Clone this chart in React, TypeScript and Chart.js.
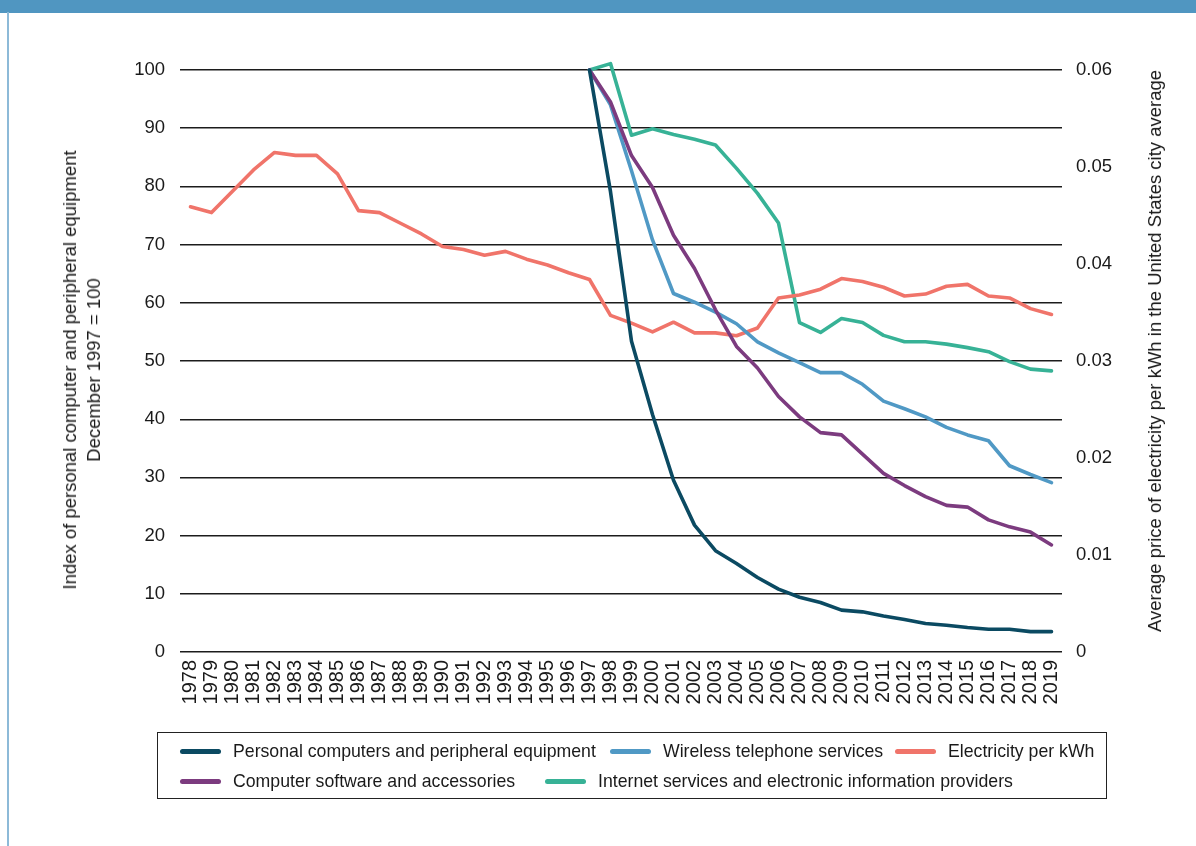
import React, { useEffect, useRef } from "react";
import { Chart, registerables } from "chart.js";

Chart.register(...registerables);

const FONT = "'Liberation Sans', Arial, Helvetica, sans-serif";

const years = [
  "1978", "1979", "1980", "1981", "1982", "1983", "1984", "1985", "1986", "1987",
  "1988", "1989", "1990", "1991", "1992", "1993", "1994", "1995", "1996", "1997",
  "1998", "1999", "2000", "2001", "2002", "2003", "2004", "2005", "2006", "2007",
  "2008", "2009", "2010", "2011", "2012", "2013", "2014", "2015", "2016", "2017",
  "2018", "2019",
];

// Index series start in December 1997 (= 100)
const indexStartYear = "1997";

const pcIndex = [
  100, 79.1, 53.4, 40.8, 29.5, 21.8, 17.4, 15.2, 12.8, 10.8, 9.4, 8.5,
  7.2, 6.9, 6.2, 5.6, 4.9, 4.6, 4.2, 3.9, 3.9, 3.5, 3.5,
];
const wirelessIndex = [
  100, 94.0, 82.7, 70.8, 61.6, 60.1, 58.4, 56.4, 53.3, 51.4, 49.7, 48.0,
  48.0, 46.0, 43.1, 41.8, 40.4, 38.6, 37.3, 36.3, 32.0, 30.5, 29.1,
];
const softwareIndex = [
  100, 94.5, 85.3, 79.8, 71.6, 65.9, 58.8, 52.5, 48.8, 43.9, 40.4, 37.7,
  37.3, 34.0, 30.7, 28.6, 26.7, 25.2, 24.9, 22.7, 21.5, 20.6, 18.4,
];
const internetIndex = [
  100, 101.1, 88.8, 89.9, 88.9, 88.1, 87.1, 83.1, 78.8, 73.7, 56.6, 54.9,
  57.3, 56.6, 54.4, 53.3, 53.3, 52.9, 52.3, 51.6, 49.9, 48.6, 48.3,
];

// Average price of electricity per kWh (USD), 1978-2019
const electricityPrice = [
  0.0459, 0.0453, 0.0475, 0.0497, 0.0515, 0.0512, 0.0512, 0.0493, 0.0455, 0.0453,
  0.0442, 0.0431, 0.0418, 0.0415, 0.0409, 0.0413, 0.0405, 0.0399, 0.0391, 0.0384,
  0.0347, 0.0339, 0.0330, 0.0340, 0.0329, 0.0329, 0.0326, 0.0334, 0.0365, 0.0368,
  0.0374, 0.0385, 0.0382, 0.0376, 0.0367, 0.0369, 0.0377, 0.0379, 0.0367, 0.0365,
  0.0354, 0.0348,
];

const leftTicks = [0, 10, 20, 30, 40, 50, 60, 70, 80, 90, 100];
const rightTickLabels = ["0", "0.01", "0.02", "0.03", "0.04", "0.05", "0.06"];

const seriesNames = [
  "Personal computers and peripheral equipment",
  "Wireless telephone services",
  "Electricity per kWh",
  "Computer software and accessories",
  "Internet services and electronic information providers",
];
const seriesColors = ["#0b4a62", "#5099c5", "#f0746a", "#7c3b7f", "#37b296"];

const leftTitle = [
  "Index of personal computer and peripheral equipment",
  "December 1997 = 100",
];
const rightTitle =
  "Average price of electricity per kWh in the United States city average";

function alignIndex(values: number[]): (number | null)[] {
  const start = years.indexOf(indexStartYear);
  return years.map((_, i) => (i >= start ? values[i - start] : null));
}

export default function App() {
  const canvasRef = useRef<HTMLCanvasElement | null>(null);

  useEffect(() => {
    const canvas = canvasRef.current;
    if (!canvas) return;
    const lineW = 3.6;
    const mk = (idx: number, data: (number | null)[], axis: string) => ({
      label: seriesNames[idx],
      data,
      borderColor: seriesColors[idx],
      backgroundColor: seriesColors[idx],
      borderWidth: lineW,
      pointRadius: 0,
      pointHoverRadius: 0,
      tension: 0,
      fill: false,
      spanGaps: false,
      clip: false as const,
      yAxisID: axis,
      borderCapStyle: "round" as const,
      borderJoinStyle: "round" as const,
    });
    const chart = new Chart(canvas, {
      type: "line",
      data: {
        labels: years,
        datasets: [
          mk(0, alignIndex(pcIndex), "y"),
          mk(3, alignIndex(softwareIndex), "y"),
          mk(1, alignIndex(wirelessIndex), "y"),
          mk(2, electricityPrice, "y1"),
          mk(4, alignIndex(internetIndex), "y"),
        ],
      },
      options: {
        responsive: false,
        animation: false,
        devicePixelRatio: 1,
        layout: { padding: { top: 70, bottom: 134, left: 0, right: 0 } },
        plugins: {
          legend: { display: false },
          tooltip: { enabled: false },
          title: { display: false },
        },
        scales: {
          x: {
            type: "category",
            offset: true,
            grid: { display: false, drawTicks: false },
            border: { display: false },
            ticks: {
              autoSkip: false,
              minRotation: 90,
              maxRotation: 90,
              padding: 8,
              color: "#1a1a1a",
              font: { family: FONT, size: 20 },
            },
            afterFit: (s: any) => {
              s.height = 60;
            },
          },
          y: {
            position: "left",
            min: 0,
            max: 100,
            afterBuildTicks: (s: any) => {
              s.ticks = leftTicks.map((v) => ({ value: v }));
            },
            ticks: {
              padding: 15,
              color: "#1a1a1a",
              font: { family: FONT, size: 18.5 },
            },
            grid: { color: "#1c1c1c", lineWidth: 1.4, drawTicks: false },
            border: { display: false },
            afterFit: (s: any) => {
              s.width = 180;
            },
          },
          y1: {
            position: "right",
            min: 0,
            max: 0.06,
            afterBuildTicks: (s: any) => {
              s.ticks = rightTickLabels.map((t) => ({ value: parseFloat(t) }));
            },
            ticks: {
              padding: 14,
              color: "#1a1a1a",
              font: { family: FONT, size: 18.5 },
              callback: (_v: any, i: number) => rightTickLabels[i],
            },
            grid: { display: false, drawTicks: false },
            border: { display: false },
            afterFit: (s: any) => {
              s.width = 134;
            },
          },
        },
      },
    });
    return () => chart.destroy();
  }, []);

  const legendPos = [
    { left: 180, top: 751 },
    { left: 610, top: 751 },
    { left: 895, top: 751 },
    { left: 180, top: 781 },
    { left: 545, top: 781 },
  ];

  return (
    <div
      style={{
        position: "absolute",
        left: 0,
        top: 0,
        width: 1196,
        height: 846,
        background: "#ffffff",
        overflow: "hidden",
        fontFamily: FONT,
        color: "#1a1a1a",
      }}
    >
      <canvas
        ref={canvasRef}
        width={1196}
        height={846}
        style={{ position: "absolute", left: 0, top: 0, width: 1196, height: 846, display: "block" }}
      />
      {/* header band and frame */}
      <div style={{ position: "absolute", left: 0, top: 0, width: 1196, height: 13, background: "#5096c1" }} />
      <div style={{ position: "absolute", left: 7, top: 12, width: 1.5, height: 834, background: "#8dbad8" }} />

      {/* left axis title */}
      <div
        style={{
          position: "absolute",
          left: 82,
          top: 370,
          transform: "translate(-50%, -50%) rotate(-90deg)",
          whiteSpace: "nowrap",
          textAlign: "center",
          fontSize: 18.5,
          lineHeight: "24px",
        }}
      >
        {leftTitle.map((t) => (
          <div key={t}>{t}</div>
        ))}
      </div>

      {/* right axis title */}
      <div
        style={{
          position: "absolute",
          left: 1155,
          top: 351,
          transform: "translate(-50%, -50%) rotate(-90deg)",
          whiteSpace: "nowrap",
          fontSize: 18.5,
          lineHeight: "24px",
        }}
      >
        {rightTitle}
      </div>

      {/* legend */}
      <div
        style={{
          position: "absolute",
          left: 157,
          top: 732,
          width: 950,
          height: 67,
          border: "1.3px solid #222",
          boxSizing: "border-box",
        }}
      />
      {[0, 1, 2, 3, 4].map((i) => (
        <div
          key={i}
          style={{
            position: "absolute",
            left: legendPos[i].left,
            top: legendPos[i].top,
            transform: "translateY(-50%)",
            display: "flex",
            alignItems: "center",
            whiteSpace: "nowrap",
            fontSize: 17.7,
            lineHeight: "22px",
          }}
        >
          <span
            style={{
              display: "inline-block",
              width: 41,
              height: 5,
              borderRadius: 3,
              background: seriesColors[i],
              marginRight: 12,
            }}
          />
          <span>{seriesNames[i]}</span>
        </div>
      ))}
    </div>
  );
}
